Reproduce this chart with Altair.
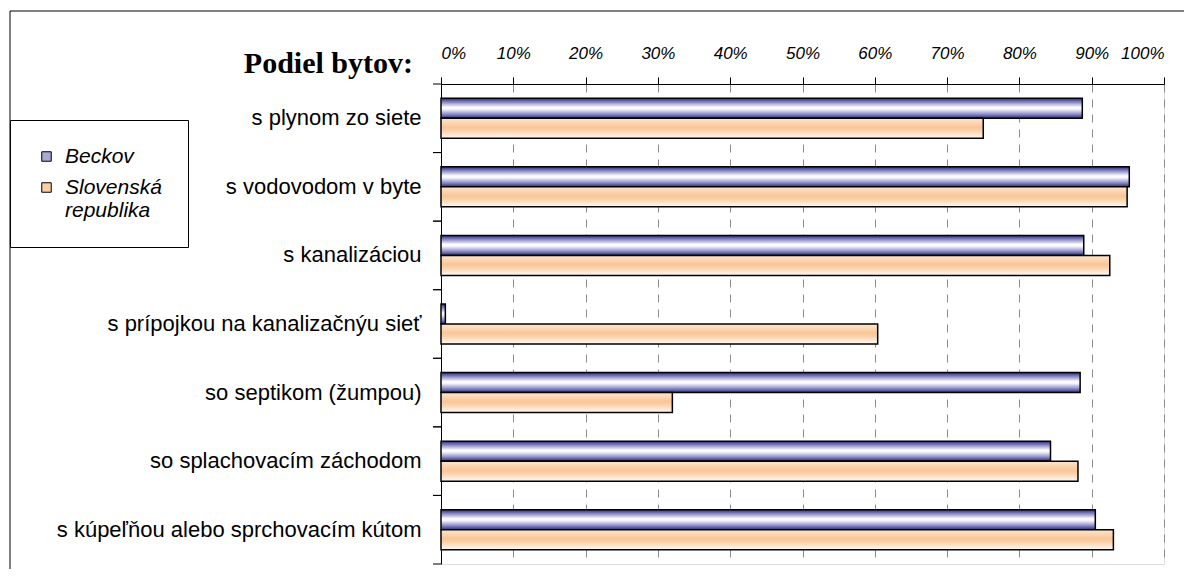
import altair as alt
import pandas as pd

categories = [
    "s plynom zo siete",
    "s vodovodom v byte",
    "s kanalizáciou",
    "s prípojkou na kanalizačnýu sieť",
    "so septikom (žumpou)",
    "so splachovacím záchodom",
    "s kúpeľňou alebo sprchovacím kútom",
]
series = ["Beckov", "Slovenská republika"]
beckov = [88.7, 95.2, 88.9, 0.6, 88.4, 84.3, 90.5]
slovakia = [75.0, 94.9, 92.5, 60.4, 32.0, 88.1, 93.0]
x_ticks = [0, 10, 20, 30, 40, 50, 60, 70, 80, 90, 100]

rows = []
for c, b, s in zip(categories, beckov, slovakia):
    rows.append({"category": c, "series": series[0], "value": b})
    rows.append({"category": c, "series": series[1], "value": s})
df = pd.DataFrame(rows)
cat_df = pd.DataFrame({"category": categories})

W, H = 723, 480

grad_blue = {
    "gradient": "linear", "x1": 0, "y1": 0, "x2": 0, "y2": 1,
    "stops": [
        {"offset": 0.0, "color": "#2b2b7a"},
        {"offset": 0.2, "color": "#8a8ac6"},
        {"offset": 0.45, "color": "#ffffff"},
        {"offset": 0.55, "color": "#f4f4fb"},
        {"offset": 0.8, "color": "#8a8ac6"},
        {"offset": 1.0, "color": "#2b2b7a"},
    ],
}
grad_orange = {
    "gradient": "linear", "x1": 0, "y1": 0, "x2": 0, "y2": 1,
    "stops": [
        {"offset": 0.0, "color": "#fde6d0"},
        {"offset": 0.45, "color": "#f9c697"},
        {"offset": 0.6, "color": "#fbcfa6"},
        {"offset": 1.0, "color": "#fffaf4"},
    ],
}

y_enc = alt.Y(
    "category:N", sort=categories,
    scale=alt.Scale(domain=categories, paddingInner=0, paddingOuter=0),
    axis=alt.Axis(
        title=None, orient="left", ticks=False, domain=True, domainColor="black",
        labelFont="Liberation Sans", labelFontSize=22, labelColor="black",
        labelPadding=20, labelLimit=500,
    ),
)
yoff_enc = alt.YOffset(
    "series:N", sort=series,
    scale=alt.Scale(domain=series, paddingInner=0, paddingOuter=0.714),
)
x_enc = alt.X(
    "value:Q",
    scale=alt.Scale(domain=[0, 100], nice=False),
    axis=alt.Axis(
        title=None, orient="top", values=x_ticks, labelExpr="datum.value + '%'",
        labelFont="Liberation Sans", labelFontStyle="italic", labelFontSize=17,
        labelColor="black", labelPadding=15, tickSize=7, tickColor="black",
        domainColor="black", grid=True, gridDash=[8, 7], gridColor="#8c8c8c",
        gridWidth=1,
    ),
)

frame = alt.Chart(cat_df.head(1)).mark_rect(
    fill=None, stroke="black", strokeWidth=1
).encode(
    x=alt.value(-431), x2=alt.value(800), y=alt.value(-73), y2=alt.value(560)
)

legend_layer = alt.Chart(df).mark_bar(opacity=0).encode(
    y=y_enc, yOffset=yoff_enc, x=x_enc,
    color=alt.Color(
        "series:N",
        scale=alt.Scale(domain=series, range=["#a9a9d8", "#fbcfa4"]),
        legend=alt.Legend(
            title=None, orient="none", legendX=-431, legendY=36,
            labelFont="Liberation Sans", labelFontStyle="italic", labelFontSize=21,
            labelColor="black", labelLimit=300, labelOffset=8,
            labelExpr="datum.label == 'Slovenská republika' ? ['Slovenská', 'republika'] : datum.label",
            symbolType="square", symbolSize=90, symbolStrokeColor="black",
            symbolStrokeWidth=1, symbolOpacity=1,
            strokeColor="black", fillColor="white", padding=26, rowPadding=9,
        ),
    ),
)

bars = alt.Chart(df).mark_bar(stroke="black", strokeWidth=1.5).encode(
    y=y_enc, yOffset=yoff_enc, x=x_enc,
    fill=alt.condition(alt.datum.series == "Beckov", alt.value(grad_blue), alt.value(grad_orange)),
)

ticks_start = alt.Chart(cat_df).mark_rule(color="black", strokeWidth=1).encode(
    y=alt.Y("category:N", sort=categories, bandPosition=0),
    x=alt.value(-8), x2=alt.value(0),
)
ticks_end = alt.Chart(cat_df).mark_rule(color="black", strokeWidth=1).encode(
    y=alt.Y("category:N", sort=categories, bandPosition=1),
    x=alt.value(-8), x2=alt.value(0),
)

chart = alt.layer(frame, legend_layer, bars, ticks_start, ticks_end).properties(
    width=W, height=H,
    title=alt.TitleParams(
        "Podiel bytov:", anchor="start", align="right", frame="group",
        baseline="alphabetic", dx=-28, dy=92, offset=0,
        font="Liberation Serif", fontSize=30, fontWeight="bold", color="black",
    ),
    autosize=alt.AutoSizeParams(type="none"),
    padding={"left": 433, "top": 76, "right": 20, "bottom": 5},
).configure_view(stroke=None).configure(background="white")

chart.save("out.html", embed_options={"renderer": "svg", "actions": False})
